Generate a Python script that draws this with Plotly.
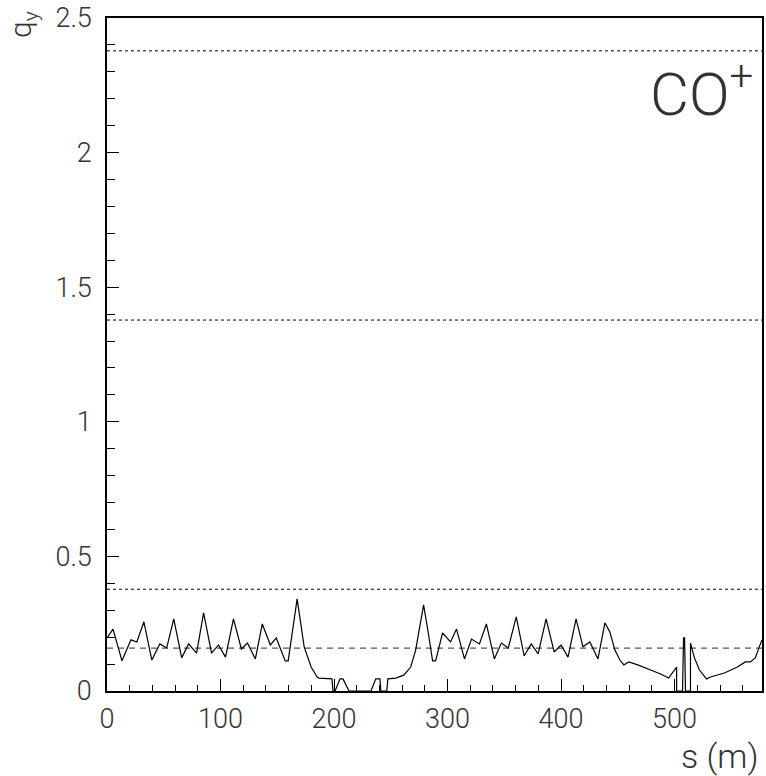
import plotly.graph_objects as go

# Vertical tune advance q_y along the ring, s in metres
s_m = [0, 5.3, 13.2, 21.1, 26.3, 32.5, 39.5, 46.5, 52.6, 58.8, 65.8, 71.9, 78.9, 85.1,
       92.1, 98.2, 104.4, 111.4, 118.4, 123.7, 130.7, 136.8, 143.9, 149.1, 157.0, 159.6,
       167.5, 173.7, 179.8, 185.1, 186.8, 198.2, 199.1, 200.9, 205.3, 207.9, 213.2, 232.5,
       236.8, 240.4, 241.2, 246.5, 247.4, 254.4, 261.4, 267.5, 271.9, 274.6, 278.9, 283.3,
       286.8, 289.5, 295.6, 302.6, 307.9, 314.9, 321.1, 328.1, 334.2, 341.2, 347.4, 353.5,
       360.5, 367.5, 373.7, 379.8, 386.8, 393.9, 400.0, 406.1, 413.2, 419.3, 425.4, 432.5,
       438.6, 443.0, 447.4, 451.8, 455.3, 459.6, 467.5, 478.9, 487.7, 494.7, 501.8, 501.8,
       507.0, 507.9, 508.8, 509.6, 514.0, 514.0, 517.5, 521.9, 528.1, 531.6, 543.9, 555.3,
       562.3, 566.7, 571.1, 574.6, 577.0]
q_y = [0.197, 0.23, 0.112, 0.19, 0.182, 0.257, 0.115, 0.175, 0.16, 0.268, 0.123, 0.175,
       0.141, 0.29, 0.141, 0.171, 0.126, 0.268, 0.156, 0.178, 0.119, 0.249, 0.171, 0.197,
       0.112, 0.112, 0.342, 0.164, 0.089, 0.052, 0.048, 0.045, 0.0, 0.0, 0.045, 0.045, 0.0,
       0.0, 0.045, 0.045, 0.0, 0.0, 0.045, 0.048, 0.059, 0.089, 0.152, 0.219, 0.32, 0.208,
       0.112, 0.112, 0.216, 0.182, 0.23, 0.119, 0.193, 0.175, 0.249, 0.119, 0.178, 0.16,
       0.275, 0.13, 0.175, 0.138, 0.268, 0.145, 0.171, 0.126, 0.268, 0.164, 0.182, 0.119,
       0.253, 0.219, 0.152, 0.115, 0.097, 0.108, 0.097, 0.078, 0.063, 0.048, 0.089, 0.0,
       0.0, 0.197, 0.197, 0.0, 0.0, 0.178, 0.123, 0.078, 0.045, 0.052, 0.067, 0.089, 0.108,
       0.108, 0.123, 0.164, 0.19]

# Reference tune levels
tune_lines = [0.378, 1.378, 2.378]   # dotted
mean_level = 0.159                   # dashed

x_range = [0, 577]
y_range = [0, 2.5]
x_ticks = [0, 100, 200, 300, 400, 500]
x_ticklabels = ["0", "100", "200", "300", "400", "500"]
y_ticks = [0, 0.5, 1, 1.5, 2, 2.5]
y_ticklabels = ["0", "0.5", "1", "1.5", "2", "2.5"]

FONT = "Roboto"
TXT = "#333333"

fig = go.Figure()

for lvl in tune_lines:
    fig.add_trace(go.Scatter(x=x_range, y=[lvl, lvl], mode="lines",
                             line=dict(color="black", width=1, dash="dot"),
                             hoverinfo="skip", showlegend=False))

fig.add_trace(go.Scatter(x=x_range, y=[mean_level, mean_level], mode="lines",
                         line=dict(color="#555555", width=1.3, dash="6px,5px"),
                         hoverinfo="skip", showlegend=False))

fig.add_trace(go.Scatter(x=s_m, y=q_y, mode="lines",
                         line=dict(color="black", width=1.2),
                         showlegend=False))

axis_common = dict(
    showgrid=False, zeroline=False, showline=True, linecolor="black", linewidth=1.5,
    mirror=True, ticks="inside", ticklen=12, tickwidth=1, tickcolor="black",
    tickfont=dict(family=FONT, size=27, color=TXT, weight=300),
)

fig.update_xaxes(range=x_range, tickmode="array", tickvals=x_ticks,
                 ticktext=x_ticklabels, ticklabelstandoff=3,
                 minor=dict(ticks="inside", ticklen=6, dtick=20, tick0=0,
                            tickcolor="black"),
                 **axis_common)
fig.update_yaxes(range=y_range, tickmode="array", tickvals=y_ticks,
                 ticktext=y_ticklabels, ticklabelstandoff=8,
                 minor=dict(ticks="inside", ticklen=8, dtick=0.1, tick0=0,
                            tickcolor="black"),
                 **axis_common)

fig.add_annotation(text="q<sub>y</sub>", xref="paper", yref="paper",
                   x=-0.128, y=0.99, xanchor="center", yanchor="middle",
                   textangle=-90, showarrow=False,
                   font=dict(family=FONT, size=30, color=TXT, weight=300))
fig.add_annotation(text="s (m)", xref="paper", yref="paper",
                   x=0.998, y=-0.096, xanchor="right", yanchor="middle",
                   showarrow=False,
                   font=dict(family=FONT, size=34, color=TXT, weight=300))
fig.add_annotation(text="CO<sup>+</sup>", xref="paper", yref="paper",
                   x=0.99, y=0.893, xanchor="right", yanchor="middle",
                   showarrow=False,
                   font=dict(family=FONT, size=60, color=TXT, weight=300))

fig.update_layout(width=766, height=776, plot_bgcolor="white", paper_bgcolor="white",
                  margin=dict(l=107, r=2, t=18, b=85))

fig.write_html("out.html")
